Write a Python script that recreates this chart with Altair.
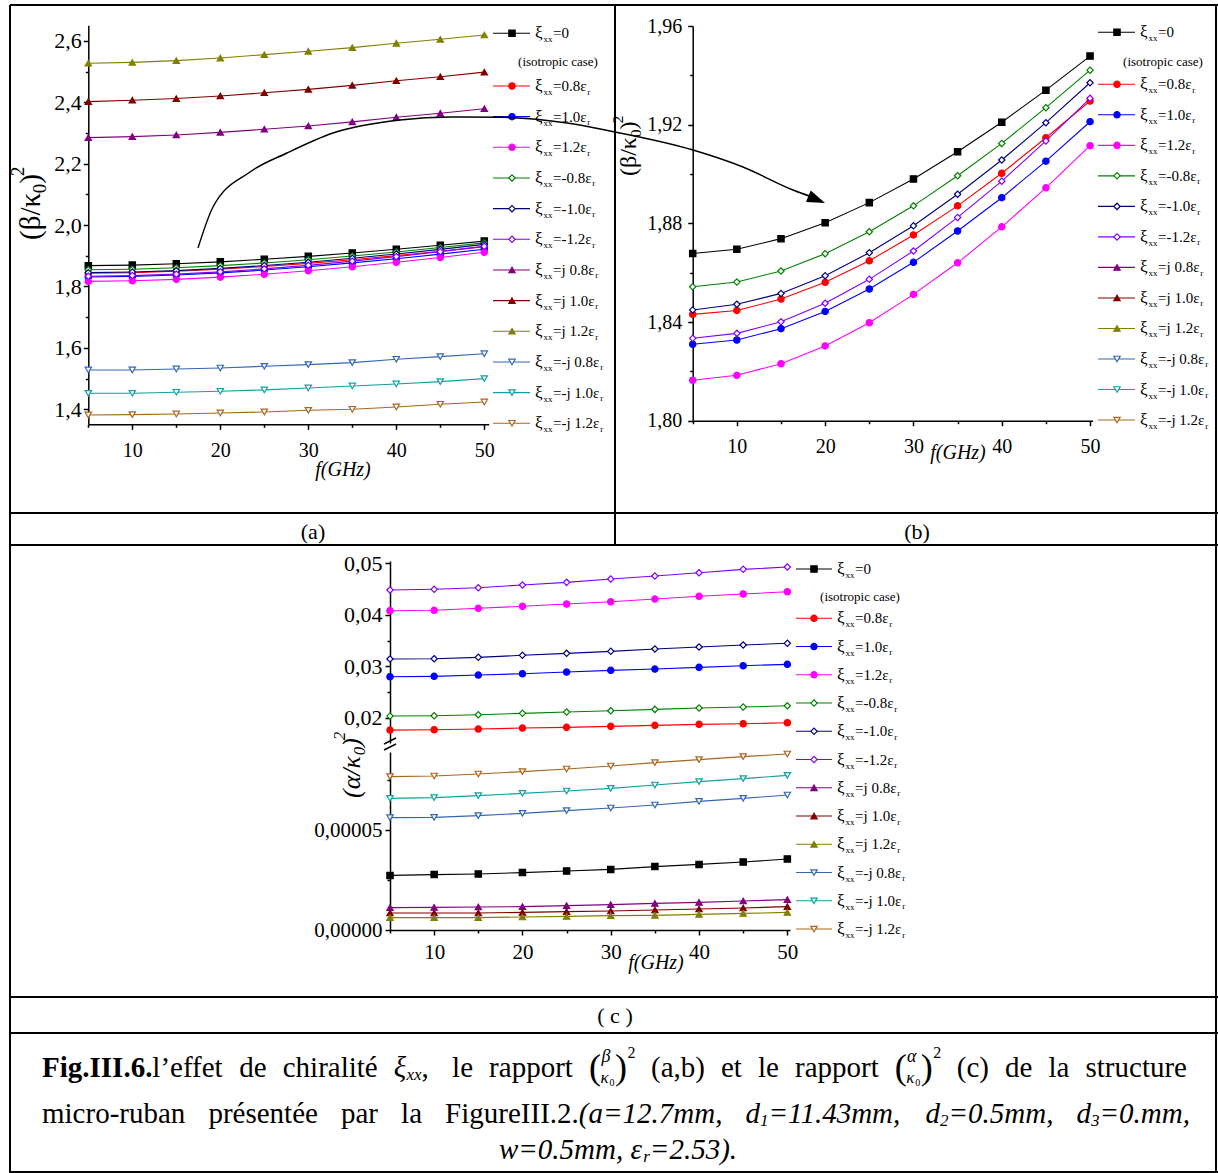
import altair as alt
import pandas as pd

W_CANVAS, H_CANVAS = 1218, 1173
SERIF = "Liberation Serif"

# ---------------- data ----------------
F = [5, 10, 15, 20, 25, 30, 35, 40, 45, 50]
SERIES = ["0", "0.8", "1.0", "1.2", "-0.8", "-1.0", "-1.2",
          "j0.8", "j1.0", "j1.2", "-j0.8", "-j1.0", "-j1.2"]
LEG_TEXT = ["=0", "=0.8ε", "=1.0ε", "=1.2ε", "=-0.8ε", "=-1.0ε", "=-1.2ε",
            "=j 0.8ε", "=j 1.0ε", "=j 1.2ε", "=-j 0.8ε", "=-j 1.0ε", "=-j 1.2ε"]
COLORS = ["#000000", "#ff0000", "#0000ff", "#ff00ff", "#008000", "#000080", "#8000ff",
          "#800080", "#800000", "#808000", "#3366b3", "#13a0a0", "#a8661c"]
FILLED = [True, True, True, True, False, False, False, True, True, True, False, False, False]
SHAPES = ["square", "circle", "circle", "circle", "diamond", "diamond", "diamond",
          "triangle-up", "triangle-up", "triangle-up", "triangle-down", "triangle-down", "triangle-down"]

# (beta/k0)^2  -- panels (a) and (b)
B_0 = [1.8678, 1.8695, 1.8738, 1.8802, 1.8884, 1.8980, 1.9090, 1.9210, 1.9340, 1.9478]
B_08 = [1.8431, 1.8447, 1.8493, 1.8561, 1.8648, 1.8753, 1.8871, 1.9003, 1.9147, 1.9296]
B_10 = [1.8310, 1.8327, 1.8373, 1.8443, 1.8534, 1.8642, 1.8769, 1.8904, 1.9052, 1.9212]
B_12 = [1.8164, 1.8184, 1.8231, 1.8303, 1.8397, 1.8512, 1.8640, 1.8786, 1.8944, 1.9115]
B_M08 = [1.8543, 1.8562, 1.8607, 1.8677, 1.8766, 1.8871, 1.8993, 1.9124, 1.9269, 1.9421]
B_M10 = [1.8449, 1.8472, 1.8516, 1.8588, 1.8681, 1.8790, 1.8918, 1.9057, 1.9208, 1.9370]
B_M12 = [1.8334, 1.8354, 1.8401, 1.8476, 1.8573, 1.8688, 1.8824, 1.8971, 1.9134, 1.9307]
B_J08 = [2.2847, 2.2880, 2.2935, 2.3020, 2.3120, 2.3228, 2.3360, 2.3510, 2.3640, 2.3790]
B_J10 = [2.4020, 2.4065, 2.4120, 2.4205, 2.4310, 2.4420, 2.4550, 2.4700, 2.4830, 2.4980]
B_J12 = [2.5270, 2.5300, 2.5355, 2.5440, 2.5550, 2.5660, 2.5780, 2.5920, 2.6050, 2.6190]
B_MJ08 = [1.5280, 1.5280, 1.5313, 1.5345, 1.5400, 1.5453, 1.5518, 1.5629, 1.5713, 1.5810]
B_MJ10 = [1.4520, 1.4520, 1.4554, 1.4587, 1.4630, 1.4694, 1.4760, 1.4825, 1.4900, 1.4997]
B_MJ12 = [1.3815, 1.3826, 1.3847, 1.3880, 1.3912, 1.3967, 1.4000, 1.4075, 1.4163, 1.4238]

# (alpha/k0)^2 -- panel (c)
A_08 = [0.01761, 0.01767, 0.01781, 0.01800, 0.01814, 0.01833, 0.01853, 0.01872, 0.01884, 0.01903]
A_10 = [0.02797, 0.02805, 0.02830, 0.02855, 0.02888, 0.02921, 0.02946, 0.02979, 0.03011, 0.03038]
A_12 = [0.04079, 0.04087, 0.04126, 0.04165, 0.04209, 0.04254, 0.04306, 0.04359, 0.04404, 0.04448]
A_M08 = [0.02033, 0.02039, 0.02059, 0.02086, 0.02111, 0.02136, 0.02163, 0.02189, 0.02208, 0.02233]
A_M10 = [0.03141, 0.03147, 0.03174, 0.03213, 0.03251, 0.03290, 0.03335, 0.03374, 0.03413, 0.03446]
A_M12 = [0.04481, 0.04495, 0.04526, 0.04578, 0.04630, 0.04695, 0.04753, 0.04817, 0.04883, 0.04928]
A_0 = [2.73e-5, 2.77e-5, 2.80e-5, 2.87e-5, 2.95e-5, 3.03e-5, 3.17e-5, 3.28e-5, 3.40e-5, 3.55e-5]
A_J08 = [1.12e-5, 1.13e-5, 1.15e-5, 1.17e-5, 1.22e-5, 1.27e-5, 1.33e-5, 1.38e-5, 1.45e-5, 1.52e-5]
A_J10 = [0.85e-5, 0.85e-5, 0.85e-5, 0.88e-5, 0.92e-5, 0.95e-5, 1.00e-5, 1.05e-5, 1.10e-5, 1.17e-5]
A_J12 = [0.62e-5, 0.62e-5, 0.62e-5, 0.65e-5, 0.68e-5, 0.72e-5, 0.73e-5, 0.78e-5, 0.83e-5, 0.88e-5]
A_MJ08 = [5.62e-5, 5.63e-5, 5.72e-5, 5.83e-5, 5.97e-5, 6.10e-5, 6.25e-5, 6.43e-5, 6.58e-5, 6.75e-5]
A_MJ10 = [6.58e-5, 6.62e-5, 6.72e-5, 6.83e-5, 6.95e-5, 7.08e-5, 7.25e-5, 7.42e-5, 7.57e-5, 7.73e-5]
A_MJ12 = [7.67e-5, 7.70e-5, 7.80e-5, 7.92e-5, 8.05e-5, 8.20e-5, 8.37e-5, 8.52e-5, 8.67e-5, 8.80e-5]

BETA = dict(zip(SERIES, [B_0, B_08, B_10, B_12, B_M08, B_M10, B_M12,
                         B_J08, B_J10, B_J12, B_MJ08, B_MJ10, B_MJ12]))
ALPHA = dict(zip(SERIES, [A_0, A_08, A_10, A_12, A_M08, A_M10, A_M12,
                          A_J08, A_J10, A_J12, A_MJ08, A_MJ10, A_MJ12]))

X_TICKS = [5, 10, 15, 20, 25, 30, 35, 40, 45, 50]
Y_TICKS_A = [1.4, 1.5, 1.6, 1.7, 1.8, 1.9, 2.0, 2.1, 2.2, 2.3, 2.4, 2.5, 2.6]
Y_TICKS_B = [1.80, 1.82, 1.84, 1.86, 1.88, 1.90, 1.92, 1.94, 1.96]
Y_TICKS_CU = [0.02, 0.025, 0.03, 0.035, 0.04, 0.045, 0.05]
Y_TICKS_CL = [0.0, 0.000025, 0.00005, 0.000075]

# arrow annotation path (pixel space)
ARROW_X = [198, 213, 250, 287, 333, 400, 450, 500, 567, 610, 693, 743, 793, 812]
ARROW_Y = [248, 207, 172, 153, 133, 120, 117, 117.3, 123, 131, 150, 167, 190, 197]

# ---------------- text width helper (Times metrics) ----------------
W = {' ': .25, '(': .333, ')': .333, ',': .25, '-': .333, '.': .25, '/': .278, '=': .564,
     "'": .18, '’': .333, 'é': .444, 'ξ': .436, 'β': .505, 'κ': .5, 'α': .532, 'ε': .438,
     'A': .722, 'F': .556, 'G': .722, 'H': .722, 'I': .333, 'z': .444,
     'a': .444, 'b': .5, 'c': .444, 'd': .5, 'e': .444, 'f': .333, 'g': .5, 'h': .5, 'i': .278,
     'j': .278, 'k': .5, 'l': .278, 'm': .778, 'n': .5, 'o': .5, 'p': .5, 'q': .5, 'r': .333,
     's': .389, 't': .278, 'u': .5, 'v': .5, 'w': .722, 'x': .5, 'y': .5}
WB = dict(W, **{'F': .611, 'I': .389})
WI = dict(W, **{'a': .5, 'c': .444, 'e': .444, 'f': .278, 'k': .444, 'm': .722, 'w': .667,
                '=': .675, 'r': .389, 'd': .5, 'v': .444, 'x': .444, 'y': .444, 'z': .389})


def tw(s, size, table=W):
    return size * sum(table.get(c, 0.5) for c in s)


TEXTS = []


def put(x, y, t, size, weight="normal", style="normal", angle=0, align="left"):
    TEXTS.append(dict(x=x, y=y, t=t, size=size, weight=weight, style=style,
                      angle=angle, align=align))


# ---------------- encodings ----------------
FILLS = [c if f else "#ffffff" for c, f in zip(COLORS, FILLED)]
COLOR = alt.Color("s:N", scale=alt.Scale(domain=SERIES, range=COLORS), legend=None)
STROKE = alt.Stroke("s:N", scale=alt.Scale(domain=SERIES, range=COLORS), legend=None)
FILL = alt.Fill("s:N", scale=alt.Scale(domain=SERIES, range=FILLS), legend=None)
SHAPE = alt.Shape("s:N", scale=alt.Scale(domain=SERIES, range=SHAPES), legend=None)
PT_SIZE = 40


def long_df(d, names):
    return pd.DataFrame([{"f": f, "v": v, "s": n} for n in names for f, v in zip(F, d[n])])


AX_COMMON = dict(title=None, grid=False, labelFont=SERIF, labelColor="black",
                 domainColor="black", tickColor="black", domainWidth=1.5, tickWidth=1.5,
                 labelOverlap=False, labelFlush=False)


def x_axis(y_px, pad, fs):
    return alt.Axis(values=X_TICKS, orient="bottom", offset=-(H_CANVAS - y_px),
                    labelExpr="datum.value % 10 == 0 ? datum.label : ''",
                    tickSize={"condition": {"test": "datum.value % 10 != 0", "value": 3}, "value": 5},
                    labelPadding=pad, labelFontSize=fs, format="d", **AX_COMMON)


def y_axis(x_px, values, label_test, fmt, pad, fs):
    return alt.Axis(values=values, orient="left", offset=-x_px,
                    labelExpr=f"({label_test}) ? replace(format(datum.value, '{fmt}'), '.', ',') : ''",
                    tickSize={"condition": {"test": f"!({label_test})", "value": 3}, "value": 5},
                    labelPadding=pad, labelFontSize=fs, labelBaseline="middle", **AX_COMMON)


def panel(df, xdom, xrng, ydom, yrng, xax, yax):
    xe = alt.X("f:Q", scale=alt.Scale(domain=xdom, range=xrng, nice=False, zero=False), axis=xax)
    ye = alt.Y("v:Q", scale=alt.Scale(domain=ydom, range=yrng, nice=False, zero=False), axis=yax)
    ln = alt.Chart(df).mark_line(strokeWidth=1.1).encode(x=xe, y=ye, color=COLOR, detail="s:N", order="f:Q")
    pt = alt.Chart(df).mark_point(filled=False, size=PT_SIZE, strokeWidth=1.2, opacity=1).encode(
        x=xe, y=ye, stroke=STROKE, fill=FILL, shape=SHAPE)
    return alt.layer(ln, pt)


FIRST7 = SERIES[:7]
panel_a = panel(long_df(BETA, SERIES), [5, 50.5], [88.3, 488.7], [1.351, 2.651], [424.3, 25.2],
                x_axis(424.3, 11, 20), y_axis(88.3, Y_TICKS_A, "round(datum.value*10) % 2 == 0", ".1f", 2, 22))
panel_b = panel(long_df(BETA, FIRST7), [5, 50.3], [692.7, 1092.7], [1.80, 1.96], [420.7, 26],
                x_axis(420.7, 11, 20), y_axis(692.7, Y_TICKS_B, "round(datum.value*100) % 4 == 0", ".2f", 6, 20))
UPPER = ["0.8", "1.0", "1.2", "-0.8", "-1.0", "-1.2"]
LOWER = ["0", "j0.8", "j1.0", "j1.2", "-j0.8", "-j1.0", "-j1.2"]
panel_cu = panel(long_df(ALPHA, UPPER), [5, 50.3], [390, 790], [0.0151, 0.05045], [743, 561],
                 None, y_axis(390, Y_TICKS_CU, "round(datum.value*1000) % 10 == 0", ".2f", 3, 22))
panel_cl = panel(long_df(ALPHA, LOWER), [5, 50.3], [390, 790], [0.0, 0.000089], [930, 752],
                 x_axis(930, 6, 21), y_axis(390, Y_TICKS_CL, "round(datum.value*1000000) % 50 == 0", ".5f", 3, 21))

# ---------------- legends ----------------
LEG_LAYERS = []


def legend(y_first, y_start, step, xl0, xl1, xm, xt, iso_xy):
    ys = [y_first] + [y_start + step * i for i in range(12)]
    df = pd.DataFrame({"s": SERIES, "y": ys})
    ye = alt.Y("y:Q", scale=None, axis=None)
    LEG_LAYERS.append(alt.Chart(df).mark_rule(strokeWidth=1.1).encode(
        x=alt.value(xl0), x2=alt.value(xl1), y=ye, color=COLOR))
    LEG_LAYERS.append(alt.Chart(df).mark_point(filled=False, size=PT_SIZE, strokeWidth=1.2, opacity=1).encode(
        x=alt.value(xm), y=ye, stroke=STROKE, fill=FILL, shape=SHAPE))
    for y, lab in zip(ys, LEG_TEXT):
        put(xt, y, "ξ", 17)
        put(xt + 8.5, y + 6, "xx", 9)
        put(xt + 18, y, lab, 15)
        if lab.endswith("ε"):
            put(xt + 18 + tw(lab, 15) + 0.5, y + 5.5, "r", 9)
    put(iso_xy[0], iso_xy[1], "(isotropic case)", 13, align="center")


legend(33.3, 86, 30.66, 493, 530, 512, 535, (558, 62))
legend(32.3, 84.3, 30.52, 1098, 1135, 1117, 1140, (1163, 62.3))
legend(569, 618.3, 28.25, 796, 832, 814, 837, (860, 597))

# ---------------- axis titles ----------------


def vtitle(x, y0, pieces, size, style="normal"):
    d = 0
    for t, kind in pieces:
        if kind == "n":
            put(x, y0 - d, t, size, style=style, angle=270)
            d += tw(t, size)
        elif kind == "sub":
            put(x + 0.3 * size, y0 - d, t, 0.65 * size, style=style, angle=270)
            d += tw(t, 0.65 * size)
        else:
            put(x - 0.45 * size, y0 - d + 2, t, 0.65 * size, style=style, angle=270)
            d += tw(t, 0.65 * size)


BETA_T = [("(β/κ", "n"), ("0", "sub"), (")", "n"), ("2", "sup")]
ALPHA_T = [("(α/κ", "n"), ("0", "sub"), (")", "n"), ("2", "sup")]
vtitle(31, 240, BETA_T, 29)
vtitle(629, 176, BETA_T, 24)
vtitle(352, 798, ALPHA_T, 26, style="italic")

put(343, 470, "f(GHz)", 20, style="italic", align="center")
put(958, 453, "f(GHz)", 20, style="italic", align="center")
put(656, 963, "f(GHz)", 20, style="italic", align="center")

put(313, 532, "(a)", 22, align="center")
put(917, 532, "(b)", 22, align="center")
put(615, 1016, "( c )", 22, align="center")

# ---------------- caption (justified lines) ----------------
CS = 29
SUBS = 17
Y1, Y2, Y3 = 1068, 1114, 1150
FRAC_W = 46


def frac(x, y, num):
    put(x, y, "(", 36)
    put(x + 17, y - 11, num, 18, style="italic", align="center")
    put(x + 11.5, y + 10, "κ", 17, style="italic")
    put(x + 20.5, y + 15, "0", 10)
    put(x + 26, y, ")", 36)
    put(x + 38.5, y - 15, "2", 16)


def piece_w(p):
    t, kind = p
    if kind == "frac":
        return FRAC_W
    if kind == "b":
        return tw(t, CS, WB)
    if kind == "i":
        return tw(t, CS, WI)
    if kind == "isub":
        return tw(t, SUBS, WI)
    return tw(t, CS, W)


def draw_piece(x, y, p):
    t, kind = p
    if kind == "frac":
        frac(x, y, t)
    elif kind == "b":
        put(x, y, t, CS, weight="bold")
    elif kind == "i":
        put(x, y, t, CS, style="italic")
    elif kind == "isub":
        put(x, y + 7, t, SUBS, style="italic")
    else:
        put(x, y, t, CS)


def justify(words, x0, x1, y):
    widths = [sum(piece_w(p) for p in wd) for wd in words]
    gap = (x1 - x0 - sum(widths)) / (len(words) - 1)
    cx = x0
    for wd, w in zip(words, widths):
        px = cx
        for p in wd:
            draw_piece(px, y, p)
            px += piece_w(p)
        cx += w + gap


def centered(words, xc, y):
    widths = [sum(piece_w(p) for p in wd) for wd in words]
    gap = tw(" ", CS, WI)
    total = sum(widths) + gap * (len(words) - 1)
    cx = xc - total / 2
    for wd, w in zip(words, widths):
        px = cx
        for p in wd:
            draw_piece(px, y, p)
            px += piece_w(p)
        cx += w + gap


LINE1 = [[("Fig.III.6.", "b"), ("l’effet", "n")], [("de", "n")], [("chiralité", "n")],
         [("ξ", "i"), ("xx", "isub"), (" ,", "n")], [("le", "n")], [("rapport", "n")],
         [("β", "frac")], [("(a,b)", "n")], [("et", "n")], [("le", "n")], [("rapport", "n")],
         [("α", "frac")], [("(c)", "n")], [("de", "n")], [("la", "n")], [("structure", "n")]]
LINE2 = [[("micro-ruban", "n")], [("présentée", "n")], [("par", "n")], [("la", "n")],
         [("FigureIII.2.", "n"), ("(a=12.7mm,", "i")],
         [("d", "i"), ("1", "isub"), ("=11.43mm,", "i")],
         [("d", "i"), ("2", "isub"), ("=0.5mm,", "i")],
         [("d", "i"), ("3", "isub"), ("=0.mm,", "i")]]
LINE3 = [[("w=0.5mm,", "i")], [("ε", "i"), ("r", "isub"), ("=2.53).", "i")]]
justify(LINE1, 42, 1187, Y1)
justify(LINE2, 42, 1190, Y2)
centered(LINE3, 618, Y3)

# ---------------- text layers ----------------
tdf = pd.DataFrame(TEXTS)
TEXT_LAYERS = []
for (wt, st, ang, al), g in tdf.groupby(["weight", "style", "angle", "align"]):
    TEXT_LAYERS.append(alt.Chart(g.reset_index(drop=True)).mark_text(
        font=SERIF, baseline="middle", align=al, fontWeight=wt, fontStyle=st, angle=float(ang),
        color="black").encode(
        x=alt.X("x:Q", scale=None, axis=None), y=alt.Y("y:Q", scale=None, axis=None),
        text="t:N", size=alt.Size("size:Q", scale=None, legend=None)))

# ---------------- arrow ----------------
arrow_df = pd.DataFrame({"x": ARROW_X, "y": ARROW_Y, "o": list(range(len(ARROW_X)))})
arrow_line = alt.Chart(arrow_df).mark_line(color="black", strokeWidth=1.4, interpolate="monotone").encode(
    x=alt.X("x:Q", scale=None, axis=None), y=alt.Y("y:Q", scale=None, axis=None), order="o:Q")
head_df = pd.DataFrame({"x": [816.7], "y": [199.6]})
arrow_head = alt.Chart(head_df).mark_point(
    shape="M -1 -0.7 L 1 0 L -1 0.7 Z", size=324, filled=True, color="black", angle=22, opacity=1).encode(
    x=alt.X("x:Q", scale=None, axis=None), y=alt.Y("y:Q", scale=None, axis=None))

# ---------------- table borders ----------------
BORDERS = [(10, 5, 1218, 5), (10, 5, 10, 1173), (615, 5, 615, 545), (1216, 5, 1216, 1173),
           (10, 513, 1218, 513), (10, 545, 1218, 545), (10, 997, 1218, 997), (10, 1033, 1218, 1033),
           (10, 1172, 1218, 1172)]
bdf = pd.DataFrame(BORDERS, columns=["x1", "y1", "x2", "y2"])
borders = alt.Chart(bdf).mark_rule(color="black", strokeWidth=2).encode(
    x=alt.X("x1:Q", scale=None, axis=None), x2="x2:Q",
    y=alt.Y("y1:Q", scale=None, axis=None), y2="y2:Q")

# axis break marks on panel (c)
brk_df = pd.DataFrame({"x1": [384, 384], "y1": [744, 750], "x2": [396, 396], "y2": [738, 744]})
brk = alt.Chart(brk_df).mark_rule(color="black", strokeWidth=1.5).encode(
    x=alt.X("x1:Q", scale=None, axis=None), x2="x2:Q",
    y=alt.Y("y1:Q", scale=None, axis=None), y2="y2:Q")

chart = alt.layer(
    panel_a, panel_b, panel_cu, panel_cl, *LEG_LAYERS, arrow_line, arrow_head, borders, brk, *TEXT_LAYERS
).resolve_scale(x="independent", y="independent").properties(
    width=W_CANVAS, height=H_CANVAS, padding=0, autosize=alt.AutoSizeParams(type="none"),
    background="white"
).configure_view(stroke=None)

chart.save("out.html", embed_options={"renderer": "svg", "actions": False})
